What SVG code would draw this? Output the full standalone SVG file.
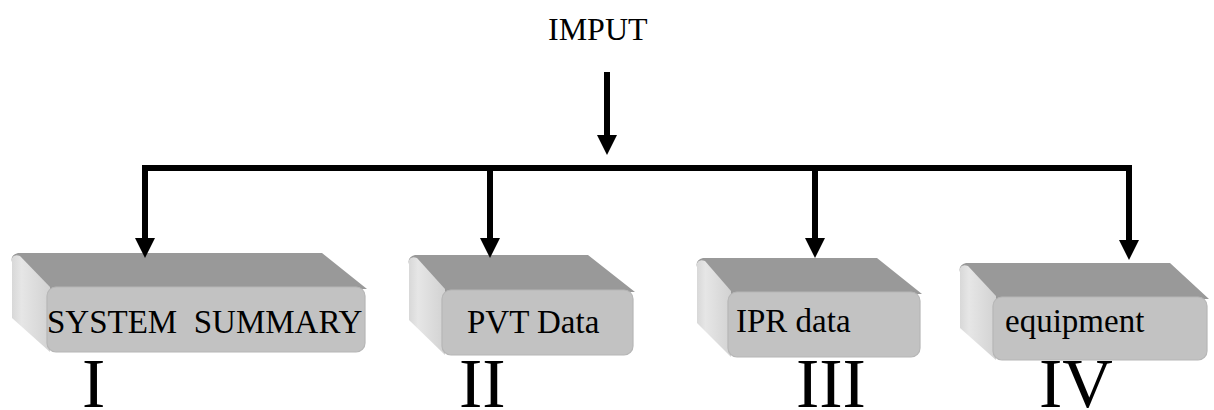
<svg xmlns="http://www.w3.org/2000/svg" width="1214" height="410" viewBox="0 0 1214 410">
<style>
.top{fill:#999999;}
.side{fill:url(#sideGrad);}
.front{fill:#c2c2c2;stroke:#b6b6b6;stroke-width:1.2;}
.lbl{font-family:"Liberation Serif","Times New Roman",serif;font-size:33px;fill:#000;white-space:pre;}
.num{font-family:"Liberation Serif","Times New Roman",serif;font-size:70px;fill:#000;}
.ln{fill:#000;}
</style>
<defs>
<linearGradient id="sideGrad" x1="0" y1="0" x2="1" y2="0">
<stop offset="0" stop-color="#d8d8d8"/>
<stop offset="0.25" stop-color="#e6e6e6"/>
<stop offset="1" stop-color="#d2d2d2"/>
</linearGradient>
</defs>
<rect width="1214" height="410" fill="#ffffff"/>

<g id="input-label">
<text class="lbl" x="548" y="40" style="font-size:32px">IMPUT</text>
</g>

<g id="node-system-summary">
<path class="top" d="M18,253 L322,253 L367,289 L45,289 Q30,276 12,262 Q10,255 18,253 Z"/>
<path class="side" d="M12,258 Q14,254 20,256 L50,287 L50,352 L12,318 Z"/>
<rect class="front" x="47" y="287" width="318" height="65" rx="9"/>
<text class="lbl" x="47" y="333" xml:space="preserve">SYSTEM  SUMMARY</text>
<text class="num" x="82" y="407">I</text>
</g>

<g id="node-pvt-data">
<path class="top" d="M415,255 L588,255 L635,292 L440,292 Q428,280 409,264 Q407,257 415,255 Z"/>
<path class="side" d="M409,260 Q411,256 417,258 L445,289 L445,355 L409,320 Z"/>
<rect class="front" x="442" y="290" width="191" height="65" rx="9"/>
<text class="lbl" x="467" y="333">PVT Data</text>
<text class="num" x="459" y="407">II</text>
</g>

<g id="node-ipr-data">
<path class="top" d="M703,258 L877,258 L922,294 L726,294 Q714,282 697,267 Q695,260 703,258 Z"/>
<path class="side" d="M697,263 Q699,259 705,261 L731,291 L731,357 L697,323 Z"/>
<rect class="front" x="728" y="292" width="192" height="65" rx="9"/>
<text class="lbl" x="736" y="332">IPR data</text>
<text class="num" x="796" y="407">III</text>
</g>

<g id="node-equipment">
<path class="top" d="M966,263 L1170,263 L1209,299 L991,299 Q979,287 960,272 Q958,265 966,263 Z"/>
<path class="side" d="M960,268 Q962,264 968,266 L996,296 L996,360 L960,328 Z"/>
<rect class="front" x="993" y="297" width="214" height="63" rx="9"/>
<text class="lbl" x="1005" y="332">equipment</text>
<text class="num" x="1039" y="407">IV</text>
</g>

<g id="connectors">
<rect class="ln" x="604" y="72" width="6" height="66"/>
<polygon class="ln" points="597,135 617,135 607,155"/>
<rect class="ln" x="142" y="165" width="990" height="6"/>
<rect class="ln" x="142" y="165" width="6" height="75"/>
<polygon class="ln" points="135,238 155,238 145,258"/>
<rect class="ln" x="487" y="165" width="6" height="75"/>
<polygon class="ln" points="480,238 500,238 490,258"/>
<rect class="ln" x="812" y="165" width="6" height="75"/>
<polygon class="ln" points="805,238 825,238 815,258"/>
<rect class="ln" x="1126" y="165" width="6" height="77"/>
<polygon class="ln" points="1119,240 1139,240 1129,260"/>
</g>
</svg>
